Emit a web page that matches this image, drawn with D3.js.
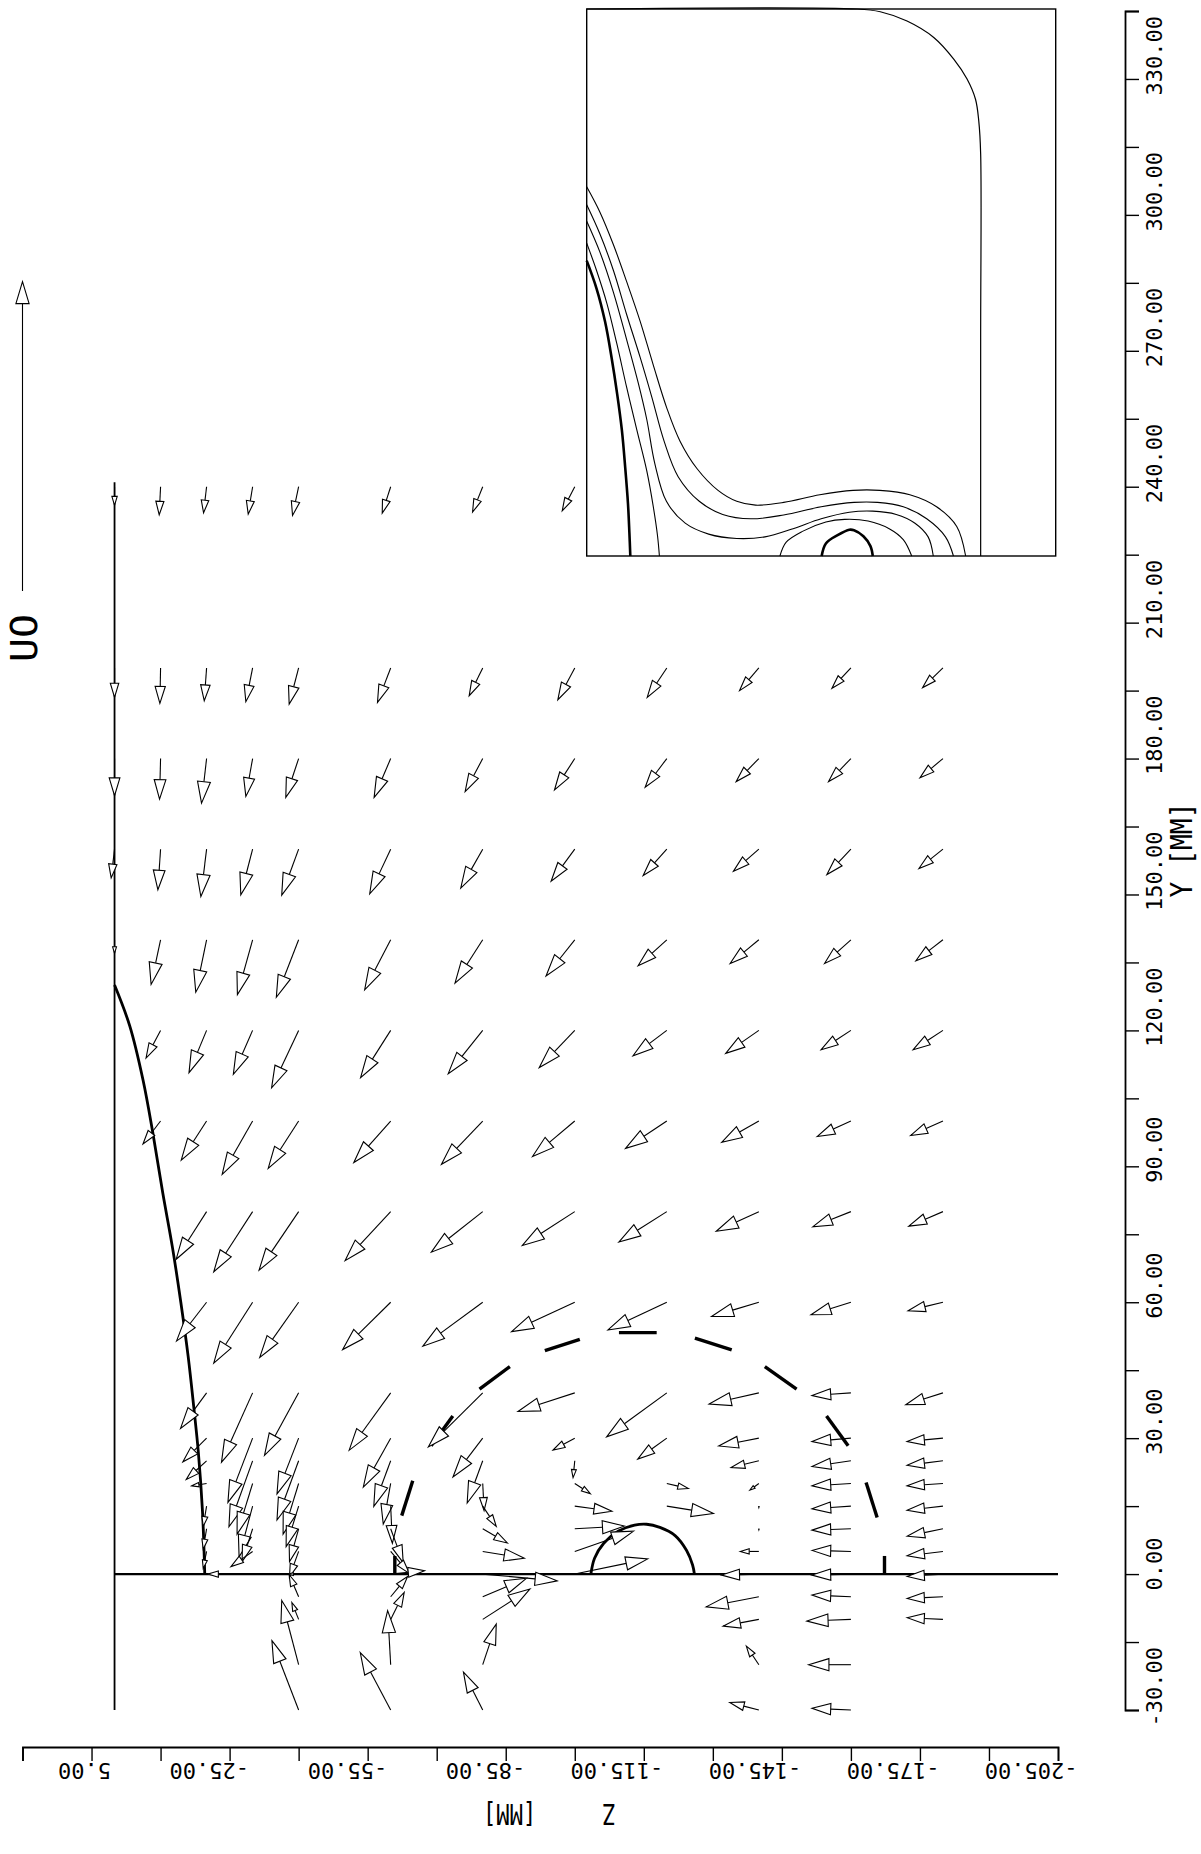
<!DOCTYPE html>
<html><head><meta charset="utf-8">
<script src="https://cdn.jsdelivr.net/npm/d3@7"></script>
<style>
html,body{margin:0;padding:0;background:#fff;}
svg{display:block;}
</style></head><body>
<svg id="chart" width="1201" height="1854"></svg>
<script>
// ---------------- DATA ----------------
// axis ticks (mm)
const zTickValues = d3.range(20, -206, -15);
const zLabelValues = [5, -25, -55, -85, -115, -145, -175, -205];
const yTickValues = d3.range(-30, 346, 15);
const yLabelValues = [-30, 0, 30, 60, 90, 120, 150, 180, 210, 240, 270, 300, 330];

// vector rows: Y level (mm) and, per row, [Z (mm), w, v] (velocity components, plot units)
const rowLevels = [240, 200, 180, 160, 140, 120, 100, 80, 60, 40, 30, 25, 20, 15, 10, 5, 0, -5, -10, -20, -30];
const row240 = [[0,0,-.055],[-10,.004,-.083],[-20,.009,-.077],[-30,.013,-.081],[-40,.018,-.085],[-60,.025,-.078],[-80,.030,-.075],[-100,.037,-.071]];
const row200 = [[0,0,-.087],[-10,.002,-.105],[-20,.007,-.097],[-30,.020,-.100],[-40,.028,-.107],[-60,.039,-.102],[-80,.040,-.082],[-100,.050,-.094],[-120,.058,-.087],[-140,.057,-.067],[-160,.056,-.060],[-180,.060,-.058]];
const row180 = [[0,0,-.110],[-10,.003,-.120],[-20,.015,-.132],[-30,.020,-.112],[-40,.038,-.115],[-60,.049,-.115],[-80,.052,-.098],[-100,.060,-.093],[-120,.064,-.085],[-140,.067,-.068],[-160,.066,-.068],[-180,.068,-.057]];
const row160 = [[0,.010,-.085],[-10,.008,-.120],[-20,.017,-.140],[-30,.035,-.135],[-40,.050,-.136],[-60,.062,-.132],[-80,.065,-.115],[-100,.070,-.095],[-120,.070,-.078],[-140,.075,-.065],[-160,.071,-.075],[-180,.071,-.057]];
const row140 = [[0,0,-.040],[-10,.028,-.132],[-20,.032,-.155],[-30,.045,-.162],[-40,.066,-.170],[-60,.077,-.148],[-80,.082,-.128],[-100,.085,-.107],[-120,.085,-.077],[-140,.085,-.070],[-160,.078,-.070],[-180,.080,-.062]];
const row120 = [[-10,.043,-.082],[-20,.052,-.125],[-30,.057,-.130],[-40,.080,-.170],[-60,.089,-.140],[-80,.102,-.128],[-100,.105,-.110],[-120,.100,-.075],[-140,.098,-.068],[-160,.088,-.057],[-180,.088,-.057]];
const row100 = [[-10,.052,-.068],[-20,.075,-.116],[-30,.090,-.158],[-40,.090,-.140],[-60,.109,-.123],[-80,.122,-.128],[-100,.125,-.105],[-120,.122,-.081],[-140,.110,-.063],[-160,.100,-.046],[-180,.096,-.043]];
const row80 = [[-20,.090,-.141],[-30,.115,-.178],[-40,.117,-.173],[-60,.135,-.145],[-80,.152,-.120],[-100,.155,-.100],[-120,.142,-.090],[-140,.126,-.058],[-160,.113,-.045],[-180,.101,-.043]];
const row60 = [[-20,.089,-.115],[-30,.115,-.180],[-40,.115,-.163],[-60,.142,-.140],[-80,.177,-.130],[-100,.187,-.087],[-120,.174,-.082],[-140,.140,-.042],[-160,.118,-.037],[-180,.103,-.025]];
const row40 = [[-20,.077,-.105],[-30,.092,-.205],[-40,.101,-.185],[-60,.123,-.170],[-80,.161,-.160],[-100,.168,-.055],[-120,.178,-.130],[-140,.147,-.033],[-160,.115,-.008],[-180,.110,-.035]];
const row30 = [[-20,.070,-.070],[-30,.073,-.190],[-40,.064,-.165],[-60,.081,-.145],[-80,.088,-.115],[-100,.064,-.035],[-120,.086,-.062],[-140,.119,-.023],[-160,.115,-.010],[-180,.106,-.010]];
const row25 = [[-20,.060,-.055],[-30,.070,-.195],[-40,.064,-.175],[-60,.050,-.135],[-80,.046,-.125],[-100,.005,-.050],[-140,.082,-.020],[-160,.115,-.017],[-180,.106,-.013]];
const row20 = [[-20,.044,-.007],[-30,.046,-.150],[-40,.046,-.150],[-60,.022,-.120],[-80,-.004,-.080],[-100,-.046,-.030],[-120,-.064,-.015],[-140,.027,-.020],[-160,.115,-.007],[-180,.106,-.007]];
const row15 = [[-20,.010,-.060],[-30,.040,-.150],[-40,.037,-.120],[-60,-.005,-.110],[-80,-.040,-.060],[-100,-.110,-.015],[-120,-.138,-.022],[-140,0,-.004],[-160,.115,-.008],[-180,.106,-.012]];
const row10 = [[-20,.010,-.060],[-30,.031,-.097],[-40,.027,-.097],[-60,-.037,-.100],[-80,-.073,-.042],[-100,-.147,.008],[-140,0,-.003],[-160,.115,-.004],[-180,.106,-.022]];
const row5 = [[-20,.010,-.050],[-30,.064,-.045],[-40,.027,-.075],[-60,-.055,-.065],[-80,-.123,-.020],[-100,-.174,.060],[-140,.055,0],[-160,.115,.003],[-180,.106,-.013]];
const row0 = [[-25,.064,0],[-40,.030,0],[-60,-.100,.010],[-80,-.220,-.020],[-100,-.216,.045],[-140,.110,-.003],[-160,.115,-.003],[-180,.106,-.007]];
const rowM5 = [[-40,.028,.065],[-60,-.050,.060],[-80,-.130,.055],[-140,.156,-.030],[-160,.115,.005],[-180,.106,-.005]];
const rowM10 = [[-40,.020,.050],[-60,-.040,.080],[-80,-.140,.090],[-140,.106,-.020],[-160,.130,-.005],[-180,.106,.005]];
const rowM20 = [[-40,.050,.190],[-60,.009,.160],[-80,-.040,.120],[-140,.037,.055],[-160,.125,0]];
const rowM30 = [[-40,.079,.205],[-60,.090,.170],[-80,.057,.112],[-140,.086,.022],[-160,.115,.005]];
const rowVectors = [row240,row200,row180,row160,row140,row120,row100,row80,row60,row40,row30,row25,row20,row15,row10,row5,row0,rowM5,rowM10,rowM20,rowM30];
// reference vector "UO": magnitude in the same velocity units
const refVector = { label: "UO", magnitude: 0.915 };

// hull section (Z, Y)
const hullZ = [0,-3.3,-6.2,-8.3,-10.5,-12.6,-14.4,-16,-17.2,-18.2,-19.1,-19.6];
const hullY = [130,121,109,97.5,84,72,60,48,37,27,14,0];
// dashed contour, one entry per dash: [Z1, Y1, Z2, Y2]
const dashSegments = [
  [-60.9,0,-60.9,4],[-62.4,12.9,-64.8,20.6],[-68.8,28.3,-73.5,34.9],[-79.3,40.8,-85.9,45.8],
  [-93.5,49.3,-101.1,51.8],[-109.6,53.3,-117.8,53.3],[-126.1,52.1,-134.1,49.5],[-141.3,45.8,-148.2,40.8],
  [-154.7,34.9,-159.4,28.3],[-163.3,20.2,-165.7,12.5],[-167.3,4,-167.3,0]];
// solid core contour
const coreZ = [-103.5,-104.3,-106.3,-109.5,-113,-115.6,-118.5,-121.8,-124.3,-125.6,-126];
const coreY = [0,3.5,6.8,9.5,10.8,11,10.3,8.5,5.2,2,0];
// boundary lines
const waterlineY = [-30, 241];
const centerZ = [0, -205];

// inset contours (percent of inset width / height)
const insetOuter = [[0,100],[57.7,100],[62.6,99.5],[68.3,97.8],[74,94.8],[78.3,90.8],[81.1,87.2],[82.9,83.5],[83.6,79.5],[84,73.5],[84,40],[84,0]];
const insetThick = [[0,54],[2.1,48.9],[3.9,42.9],[5.3,36.3],[6.5,29.6],[7.5,23],[8.2,16.3],[8.8,9.6],[9.1,4.3],[9.3,0]];
const insetC = [[0,57.2],[2.1,52.2],[4.3,46.2],[6.4,38.9],[8.5,30.9],[10.7,23],[12.8,15.6],[14.2,9],[15.1,3.7],[15.5,0]];
const insetD = [[0,67.5],[2.8,62.9],[5.7,56.9],[8.5,50.2],[11.4,42.9],[14.2,34.9],[17.1,27],[19.9,21],[23.5,16],[28,12],[32,10],[36,9.3],[42,9.8],[49.7,11.2],[56.8,12],[62.5,12],[68.9,11.2],[74.6,9],[78.9,5.4],[80.8,0]];
const insetE = [[0,64.2],[2.8,58.9],[5.7,52.2],[8.5,44.2],[11.4,36.3],[13.9,29],[16.5,21],[19.5,14.5],[24,10],[29,7.6],[35,6.8],[42,7.5],[50,9],[57,9.8],[62,9.8],[67.5,9],[72.5,6.8],[76.5,3.5],[78.2,0]];
const insetF = [[0,61.2],[2.8,55.6],[5.7,48.2],[8.5,39.6],[11,31.6],[12.8,25],[14.5,17],[17,10],[21,6],[26,4],[32,3.2],[38,3.5],[44,5],[50,6.8],[56,8],[61,8.2],[66,7.6],[70,6],[72.8,3.5],[73.9,0]];
const insetLoop = [[41.2,0],[42.5,2.5],[46,4.5],[51,6.2],[55,6.7],[60,6.4],[64.5,5],[67.5,3],[69.3,0]];
const insetCore = [[50.1,0],[51,2.3],[53.5,3.8],[56,4.8],[57,4.7],[59,3.6],[60.5,1.8],[61,0]];

// ---------------- DRAW ----------------
const FONT = "'DejaVu Sans Mono','Liberation Mono',monospace";
const svg = d3.select("#chart");
const x = d3.scaleLinear().domain([20, -205]).range([22.5, 1058]);
const y = d3.scaleLinear().domain([-30, 345]).range([1710, 11]);
const vs = d3.scaleLinear().domain([0, 1]).range([0, 338]);
const fmt = d => d.toFixed(2);

// boundary lines
svg.append("line").attr("x1", x(0)).attr("x2", x(0)).attr("y1", y(waterlineY[0])).attr("y2", y(waterlineY[1]))
  .attr("stroke", "#000").attr("stroke-width", 1.8);
svg.append("line").attr("x1", x(centerZ[0])).attr("x2", x(centerZ[1])).attr("y1", y(0)).attr("y2", y(0))
  .attr("stroke", "#000").attr("stroke-width", 2.4);

// hull
const hullLine = d3.line().x(d => x(d[0])).y(d => y(d[1])).curve(d3.curveCatmullRom.alpha(0.5));
svg.append("path").attr("d", hullLine(hullZ.map((z, i) => [z, hullY[i]])))
  .attr("fill", "none").attr("stroke", "#000").attr("stroke-width", 2.8);
// dashed contour
svg.append("g").selectAll("line").data(dashSegments).join("line")
  .attr("x1", d => x(d[0])).attr("y1", d => y(d[1])).attr("x2", d => x(d[2])).attr("y2", d => y(d[3]))
  .attr("stroke", "#000").attr("stroke-width", 3.4);
// core contour
svg.append("path").attr("d", hullLine(coreZ.map((z, i) => [z, coreY[i]])))
  .attr("fill", "none").attr("stroke", "#000").attr("stroke-width", 2.8);

// arrows
function arrow(g, x0, y0, dx, dy, sw) {
  const L = Math.hypot(dx, dy);
  if (L < 0.6) { g.append("circle").attr("cx", x0).attr("cy", y0).attr("r", 0.8).attr("fill", "#000"); return; }
  const ux = dx / L, uy = dy / L;
  const hl = Math.min(0.48 * L, 22), hw = 0.3 * hl;
  const tx = x0 + dx, ty = y0 + dy;
  const bx = tx - ux * hl, by = ty - uy * hl;
  g.append("line").attr("x1", x0).attr("y1", y0).attr("x2", bx).attr("y2", by)
    .attr("stroke", "#000").attr("stroke-width", sw);
  g.append("path").attr("d", `M${tx},${ty}L${bx - uy * hw},${by + ux * hw}L${bx + uy * hw},${by - ux * hw}Z`)
    .attr("fill", "#fff").attr("stroke", "#000").attr("stroke-width", sw).attr("stroke-linejoin", "miter");
}
const ga = svg.append("g");
rowVectors.forEach((row, i) => {
  const Y = rowLevels[i];
  row.forEach(([z, w, v]) => arrow(ga, x(z), y(Y), -vs(w), -vs(v), 1.1));
});

// reference vector U0 (placed outside the field, left of the waterline)
arrow(svg.append("g"), x(20), y(217), 0, -vs(refVector.magnitude), 1.1);
svg.append("text").attr("transform", `translate(37,${y(217) + 71}) rotate(-90)`)
  .attr("font-family", FONT).attr("font-size", 38).attr("textLength", 48).attr("lengthAdjust", "spacingAndGlyphs")
  .text(refVector.label);

// right axis (Y)
const gy = svg.append("g").attr("transform", "translate(1125,0)")
  .call(d3.axisRight(y).tickValues(yTickValues).tickSize(14).tickSizeOuter(14)
    .tickFormat(d => yLabelValues.includes(d) ? fmt(d) : ""));
gy.select(".domain").attr("stroke-width", 1.8);
gy.selectAll(".tick line").attr("stroke-width", 1.4);
gy.selectAll(".tick text").attr("x", null).attr("dy", null).attr("text-anchor", "start")
  .attr("transform", "translate(37,16) rotate(-90)").attr("font-family", FONT).attr("font-size", 22).attr("fill", "#000");
svg.append("text").attr("transform", `translate(1192,${y(150) + 3}) rotate(-90)`)
  .attr("font-family", FONT).attr("font-size", 30).attr("textLength", 95).attr("lengthAdjust", "spacingAndGlyphs")
  .attr("xml:space", "preserve").text("Y [MM]");

// bottom axis (Z)
const gx = svg.append("g").attr("transform", "translate(0,1747)")
  .call(d3.axisBottom(x).tickValues(zTickValues).tickSize(14).tickSizeOuter(14)
    .tickFormat(d => zLabelValues.includes(d) ? fmt(d) : ""));
gx.select(".domain").attr("stroke-width", 1.8);
gx.selectAll(".tick line").attr("stroke-width", 1.4);
gx.selectAll(".tick text").attr("y", null).attr("dy", null).attr("text-anchor", "start")
  .attr("transform", "translate(19,16) rotate(180)").attr("font-family", FONT).attr("font-size", 22).attr("fill", "#000");
svg.append("text").attr("transform", `translate(616,1804) rotate(180)`)
  .attr("font-family", FONT).attr("font-size", 28).attr("textLength", 133).attr("lengthAdjust", "spacingAndGlyphs")
  .attr("xml:space", "preserve").text("Z     [MM]");

// inset
const ix = d3.scaleLinear().domain([0, 100]).range([586.7, 1055.7]);
const iy = d3.scaleLinear().domain([0, 100]).range([556, 9]);
const gi = svg.append("g");
gi.append("rect").attr("x", ix(0)).attr("y", iy(100)).attr("width", ix(100) - ix(0)).attr("height", iy(0) - iy(100))
  .attr("fill", "#fff").attr("stroke", "#000").attr("stroke-width", 1.4);
const iline = d3.line().x(d => ix(d[0])).y(d => iy(d[1])).curve(d3.curveCatmullRom.alpha(0.5));
[[insetOuter, 1.2], [insetC, 1.1], [insetD, 1.1], [insetE, 1.1], [insetF, 1.1], [insetLoop, 1.1], [insetThick, 2.6], [insetCore, 2.6]]
  .forEach(([pts, sw]) => gi.append("path").attr("d", iline(pts)).attr("fill", "none").attr("stroke", "#000").attr("stroke-width", sw));
</script>
</body></html>
